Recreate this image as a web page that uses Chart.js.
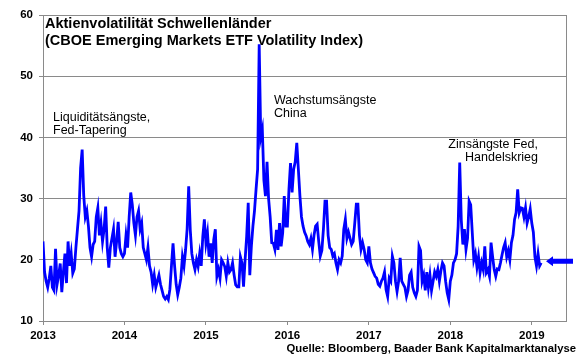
<!DOCTYPE html>
<html>
<head>
<meta charset="utf-8">
<script src="https://cdn.jsdelivr.net/npm/chart.js@4.4.1/dist/chart.umd.min.js"></script>
<style>
  html, body { margin: 0; padding: 0; background: #fff; }
  #wrap { width: 580px; height: 359px; }
</style>
</head>
<body>
<div id="wrap"><canvas id="volChart" width="580" height="359"></canvas></div>
<script>
// weekly readings of the index, one array per calendar year
const years = [2013, 2014, 2015, 2016, 2017, 2018, 2019];
const yTicks = [10, 20, 30, 40, 50, 60];

const vol2013 = [23, 18, 16.5, 15.5, 17, 19, 15.5, 15, 21.8, 16, 17.5, 19.4, 14.7, 18, 21, 16.2,
  23, 19, 21, 17.8, 18.5, 22, 25, 28, 35, 38, 30.5, 27, 28, 25.5, 22, 20.5, 22.5, 23, 27, 28.5,
  24, 26, 23, 25, 28.7, 22, 18.7, 22, 23.5, 25, 20.5, 23, 26.2, 22, 21, 20.5];
const vol2014 = [21, 24, 22, 27, 31, 29, 26, 24, 27, 28, 25, 26, 22, 21, 20, 22, 19, 18, 16,
  17.5, 15.5, 16.5, 17.5, 16, 15, 14, 13.6, 14, 13.5, 15.2, 19, 22.7, 19, 16, 14.3, 15.5, 17,
  20.5, 19, 21.6, 25, 32, 24.9, 21, 19.5, 18.4, 20, 18.9, 21, 19, 23.8, 26.6];
const vol2015 = [22.7, 24.4, 20.5, 22.7, 19.5, 23.3, 25, 17.3, 18.4, 17, 20, 19.5, 18.9, 17.3,
  19.5, 18, 18.4, 19.5, 17.5, 15.9, 15.6, 15.6, 20.5, 19.5, 15.6, 20, 23.8, 29.3, 17.5, 22.2,
  25.5, 28, 31.5, 34.8, 55.2, 40, 41.3, 33, 30.4, 36, 30, 27, 22.8, 22.7, 21.7, 24.9, 21.6, 26,
  22.2, 24.4, 30.4, 25.5];
const vol2016 = [25.5, 31.5, 35.8, 31, 34.8, 36, 39.1, 34.8, 30.4, 27, 25.5, 24.5, 23.9, 23,
  22.5, 23.5, 21.7, 24, 25.5, 25.8, 23, 20.6, 21.5, 25, 29.6, 29.6, 24, 22, 21.7, 20.6, 21, 19.5,
  18.4, 20, 19.5, 20.6, 25, 26.6, 23.5, 24.5, 23.5, 22.5, 23, 26, 29.1, 29.1, 24, 21.7, 22.8,
  21.7, 20, 19.5];
const vol2017 = [22.2, 19.5, 18.5, 17.9, 17.3, 17, 16, 15.7, 16.5, 17, 18, 15.1, 14, 17, 16.5,
  20.6, 19.5, 16.5, 14.8, 16.5, 20.3, 16.5, 16, 15.5, 14, 15, 17.5, 18, 15.5, 14.6, 14, 15, 22.2,
  21.5, 16.5, 17.5, 15, 18, 15.5, 17.5, 15, 16.5, 18, 17.3, 18.4, 16.5, 18.2, 19.5, 19, 16.5,
  14.6, 13.5];
const vol2018 = [16.5, 17.5, 19.5, 20, 21, 25.5, 35.9, 26.5, 22.5, 25, 21.7, 23.5, 29.6, 29, 24.5,
  20, 21, 18.8, 20.5, 17.9, 19.5, 18.4, 22.2, 17.9, 18.4, 17.3, 22.8, 20.5, 18.4, 17.3, 18.5,
  18.4, 19.5, 20.8, 22, 22.8, 20.5, 21.5, 20, 22.8, 24, 26.6, 27.7, 31.5, 27.7, 28.5, 28.4, 27,
  28.5, 26, 27, 28.3];
const vol2019 = [26, 24.5, 20.5, 19, 21, 19, 19.5];

const weeklySeries = [vol2013, vol2014, vol2015, vol2016, vol2017, vol2018, vol2019];

const LINE_BLUE = '#0000ff';
const GRID_GREY = '#8a8a8a';
const FONT = 'Liberation Sans, Arial, sans-serif';

function buildPoints() {
  const pts = [];
  years.forEach((yr, k) => {
    weeklySeries[k].forEach((v, w) => pts.push({ x: yr + w / 52, y: v }));
  });
  return pts;
}

// frame, arrow and all the text labels
const decorPlugin = {
  id: 'decor',
  afterDraw(chart) {
    const ctx = chart.ctx;
    const area = chart.chartArea;
    const yScale = chart.scales.y;

    ctx.save();
    ctx.strokeStyle = GRID_GREY;
    ctx.lineWidth = 1;
    ctx.beginPath();
    ctx.moveTo(Math.round(area.right) + 0.5, area.top);
    ctx.lineTo(Math.round(area.right) + 0.5, area.bottom);
    ctx.stroke();

    // arrow pointing at the latest level
    const ay = yScale.getPixelForValue(20) + 1.5;
    const tip = area.right - 20;
    ctx.fillStyle = LINE_BLUE;
    ctx.beginPath();
    ctx.moveTo(tip, ay);
    ctx.lineTo(tip + 7, ay - 5);
    ctx.lineTo(tip + 7, ay - 2.5);
    ctx.lineTo(area.right + 7, ay - 2.5);
    ctx.lineTo(area.right + 7, ay + 2.5);
    ctx.lineTo(tip + 7, ay + 2.5);
    ctx.lineTo(tip + 7, ay + 5);
    ctx.closePath();
    ctx.fill();

    ctx.fillStyle = '#000';
    ctx.textBaseline = 'middle';

    ctx.font = 'bold 14.5px ' + FONT;
    ctx.textAlign = 'left';
    ctx.fillText('Aktienvolatilität Schwellenländer', 45, 24);
    ctx.fillText('(CBOE Emerging Markets ETF Volatility Index)', 45, 41);

    ctx.font = '12.5px ' + FONT;
    ctx.fillText('Liquiditätsängste,', 53, 118);
    ctx.fillText('Fed-Tapering', 53, 131);
    ctx.fillText('Wachstumsängste', 274, 101);
    ctx.fillText('China', 274, 114);

    ctx.textAlign = 'right';
    ctx.fillText('Zinsängste Fed,', 538, 145);
    ctx.fillText('Handelskrieg', 538, 158);

    ctx.font = 'bold 11.3px ' + FONT;
    ctx.fillText('Quelle: Bloomberg, Baader Bank Kapitalmarktanalyse', 576, 349);
    ctx.restore();
  }
};

new Chart(document.getElementById('volChart'), {
  type: 'line',
  data: {
    datasets: [{
      data: buildPoints(),
      borderColor: LINE_BLUE,
      borderWidth: 2.8,
      pointRadius: 0,
      tension: 0,
      fill: false
    }]
  },
  options: {
    responsive: false,
    animation: false,
    devicePixelRatio: 1,
    layout: { padding: { left: 0, top: 15, right: 14, bottom: 0 } },
    plugins: { legend: { display: false }, tooltip: { enabled: false } },
    scales: {
      x: {
        type: 'linear',
        min: 2013,
        max: 2019.42,
        afterBuildTicks: s => { s.ticks = years.map(v => ({ value: v })); },
        afterFit: s => { s.height = 38; },
        grid: { drawOnChartArea: false, drawTicks: true, tickLength: 4, color: GRID_GREY },
        border: { color: GRID_GREY },
        ticks: {
          color: '#000',
          padding: 4,
          maxRotation: 0,
          font: { family: FONT, size: 11.5, weight: 'bold' },
          callback: v => String(v)
        }
      },
      y: {
        min: 10,
        max: 60,
        afterBuildTicks: s => { s.ticks = yTicks.map(v => ({ value: v })); },
        afterFit: s => { s.width = 43; },
        grid: { color: GRID_GREY, drawTicks: true, tickLength: 4 },
        border: { color: GRID_GREY },
        ticks: {
          color: '#000',
          padding: 6,
          font: { family: FONT, size: 11.5, weight: 'bold' }
        }
      }
    }
  },
  plugins: [decorPlugin]
});
</script>
</body>
</html>
